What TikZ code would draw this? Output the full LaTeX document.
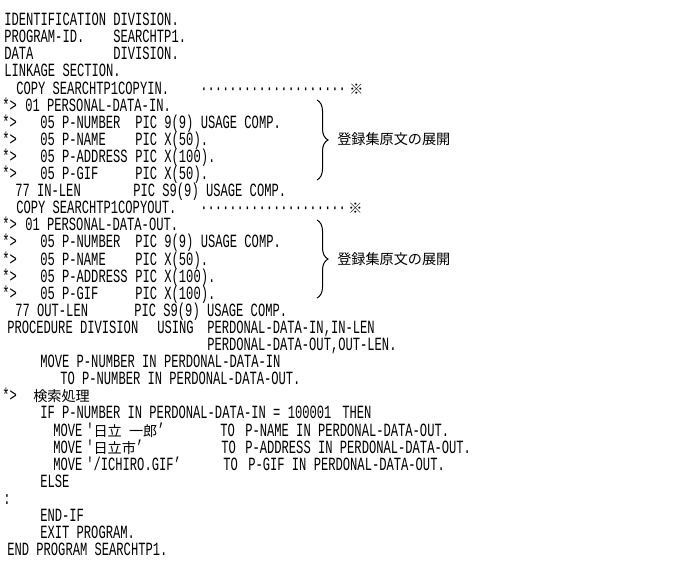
\documentclass[tikz,border=0pt]{standalone}
\usepackage{fontspec}
\usetikzlibrary{decorations.pathreplacing}
\newfontfamily\codefont[FakeStretch=0.65]{Liberation Mono}
\newfontfamily\cjk{Noto Sans CJK JP}
\newcommand\jtext[1]{{\cjk\fontsize{10.6pt}{12pt}\selectfont #1}}
\tikzset{
  code/.style={anchor=base west, inner sep=0pt, font=\codefont\fontsize{14pt}{16pt}\selectfont},
  jp/.style={anchor=west, inner sep=0pt, font=\cjk\fontsize{10.6pt}{12pt}\selectfont},
  rbrace/.style={decorate, decoration={brace, amplitude=8.25pt}, line width=0.75pt}
}
\begin{document}
\begin{tikzpicture}[x=0.75pt, y=-12.825pt]
  \useasboundingbox (0,-0.5) rectangle (673,33.067);
  % header
  \node[code] (l1a) at (4,1) {IDENTIFICATION};
  \node[code] (l1b) at (113,1) {DIVISION.};
  \node[code] (l2a) at (4,2) {PROGRAM-ID.};
  \node[code] (l2b) at (113,2) {SEARCHTP1.};
  \node[code] (l3a) at (4,3) {DATA};
  \node[code] (l3b) at (113,3) {DIVISION.};
  \node[code] (l4) at (4,4) {LINKAGE SECTION.};
  % copy in
  \node[code] (l5a) at (16,5) {COPY SEARCHTP1COPYIN.};
  \node[code] (l5b) at (200,5) {····················};
  \node[code] (l5c) at (349,5) {\jtext{※}};
  \node[code] (l6a) at (2,6) {*>};
  \node[code] (l6b) at (25,6) {01 PERSONAL-DATA-IN.};
  \node[code] (l7a) at (2,7) {*>};
  \node[code] (l7b) at (40,7) {05 P-NUMBER};
  \node[code] (l7c) at (135,7) {PIC 9(9) USAGE COMP.};
  \node[code] (l8a) at (2,8) {*>};
  \node[code] (l8b) at (40,8) {05 P-NAME};
  \node[code] (l8c) at (135,8) {PIC X(50).};
  \node[code] (l9a) at (2,9) {*>};
  \node[code] (l9b) at (40,9) {05 P-ADDRESS};
  \node[code] (l9c) at (135,9) {PIC X(100).};
  \node[code] (l10a) at (2,10) {*>};
  \node[code] (l10b) at (40,10) {05 P-GIF};
  \node[code] (l10c) at (135,10) {PIC X(50).};
  \node[code] (l11a) at (15,11) {77 IN-LEN};
  \node[code] (l11b) at (133,11) {PIC S9(9) USAGE COMP.};
  % copy out
  \node[code] (l12a) at (16,12) {COPY SEARCHTP1COPYOUT.};
  \node[code] (l12b) at (200,12) {····················};
  \node[code] (l12c) at (348,12) {\jtext{※}};
  \node[code] (l13a) at (2,13) {*>};
  \node[code] (l13b) at (25,13) {01 PERSONAL-DATA-OUT.};
  \node[code] (l14a) at (2,14) {*>};
  \node[code] (l14b) at (40,14) {05 P-NUMBER};
  \node[code] (l14c) at (135,14) {PIC 9(9) USAGE COMP.};
  \node[code] (l15a) at (2,15) {*>};
  \node[code] (l15b) at (40,15) {05 P-NAME};
  \node[code] (l15c) at (135,15) {PIC X(50).};
  \node[code] (l16a) at (2,16) {*>};
  \node[code] (l16b) at (40,16) {05 P-ADDRESS};
  \node[code] (l16c) at (135,16) {PIC X(100).};
  \node[code] (l17a) at (2,17) {*>};
  \node[code] (l17b) at (40,17) {05 P-GIF};
  \node[code] (l17c) at (135,17) {PIC X(100).};
  \node[code] (l18a) at (15,18) {77 OUT-LEN};
  \node[code] (l18b) at (134,18) {PIC S9(9) USAGE COMP.};
  % procedure
  \node[code] (l19a) at (7,19) {PROCEDURE DIVISION};
  \node[code] (l19b) at (157,19) {USING};
  \node[code] (l19c) at (207,19) {PERDONAL-DATA-IN,IN-LEN};
  \node[code] (l20) at (207,20) {PERDONAL-DATA-OUT,OUT-LEN.};
  \node[code] (l21) at (40,21) {MOVE P-NUMBER IN PERDONAL-DATA-IN};
  \node[code] (l22) at (60,22) {TO P-NUMBER IN PERDONAL-DATA-OUT.};
  \node[code] (l23a) at (2,23) {*>};
  \node[code] (l23b) at (33,23) {\jtext{検索処理}};
  \node[code] (l24a) at (40,24) {IF P-NUMBER IN PERDONAL-DATA-IN = 100001};
  \node[code] (l24b) at (342,24) {THEN};
  \node[code] (l25a) at (53,25) {MOVE};
  \node[code] (l25b) at (86,25) {'\jtext{日立}~\jtext{一郎}’};
  \node[code] (l25c) at (220,25) {TO};
  \node[code] (l25d) at (245,25) {P-NAME IN PERDONAL-DATA-OUT.};
  \node[code] (l26a) at (53,26) {MOVE};
  \node[code] (l26b) at (86,26) {'\jtext{日立市}’};
  \node[code] (l26c) at (221,26) {TO};
  \node[code] (l26d) at (245,26) {P-ADDRESS IN PERDONAL-DATA-OUT.};
  \node[code] (l27a) at (53,27) {MOVE};
  \node[code] (l27b) at (86,27) {'/ICHIRO.GIF’};
  \node[code] (l27c) at (223,27) {TO};
  \node[code] (l27d) at (248,27) {P-GIF IN PERDONAL-DATA-OUT.};
  \node[code] (l28) at (40,28) {ELSE};
  \node[code] (l29) at (3,29) {:};
  \node[code] (l30) at (40,30) {END-IF};
  \node[code] (l31) at (40,31) {EXIT PROGRAM.};
  \node[code] (l32) at (7,32) {END PROGRAM SEARCHTP1.};
  % braces
  \coordinate (br1top) at (317,5.348);
  \coordinate (br1bot) at (317,10.026);
  \coordinate (br2top) at (317,12.365);
  \coordinate (br2bot) at (317,16.93);
  \draw[rbrace] (br1top) -- (br1bot);
  \draw[rbrace] (br2top) -- (br2bot);
  \node[jp] (lab1) at (337,7.63) {登録集原文の展開};
  \node[jp] (lab2) at (337,14.65) {登録集原文の展開};
\end{tikzpicture}
\end{document}
